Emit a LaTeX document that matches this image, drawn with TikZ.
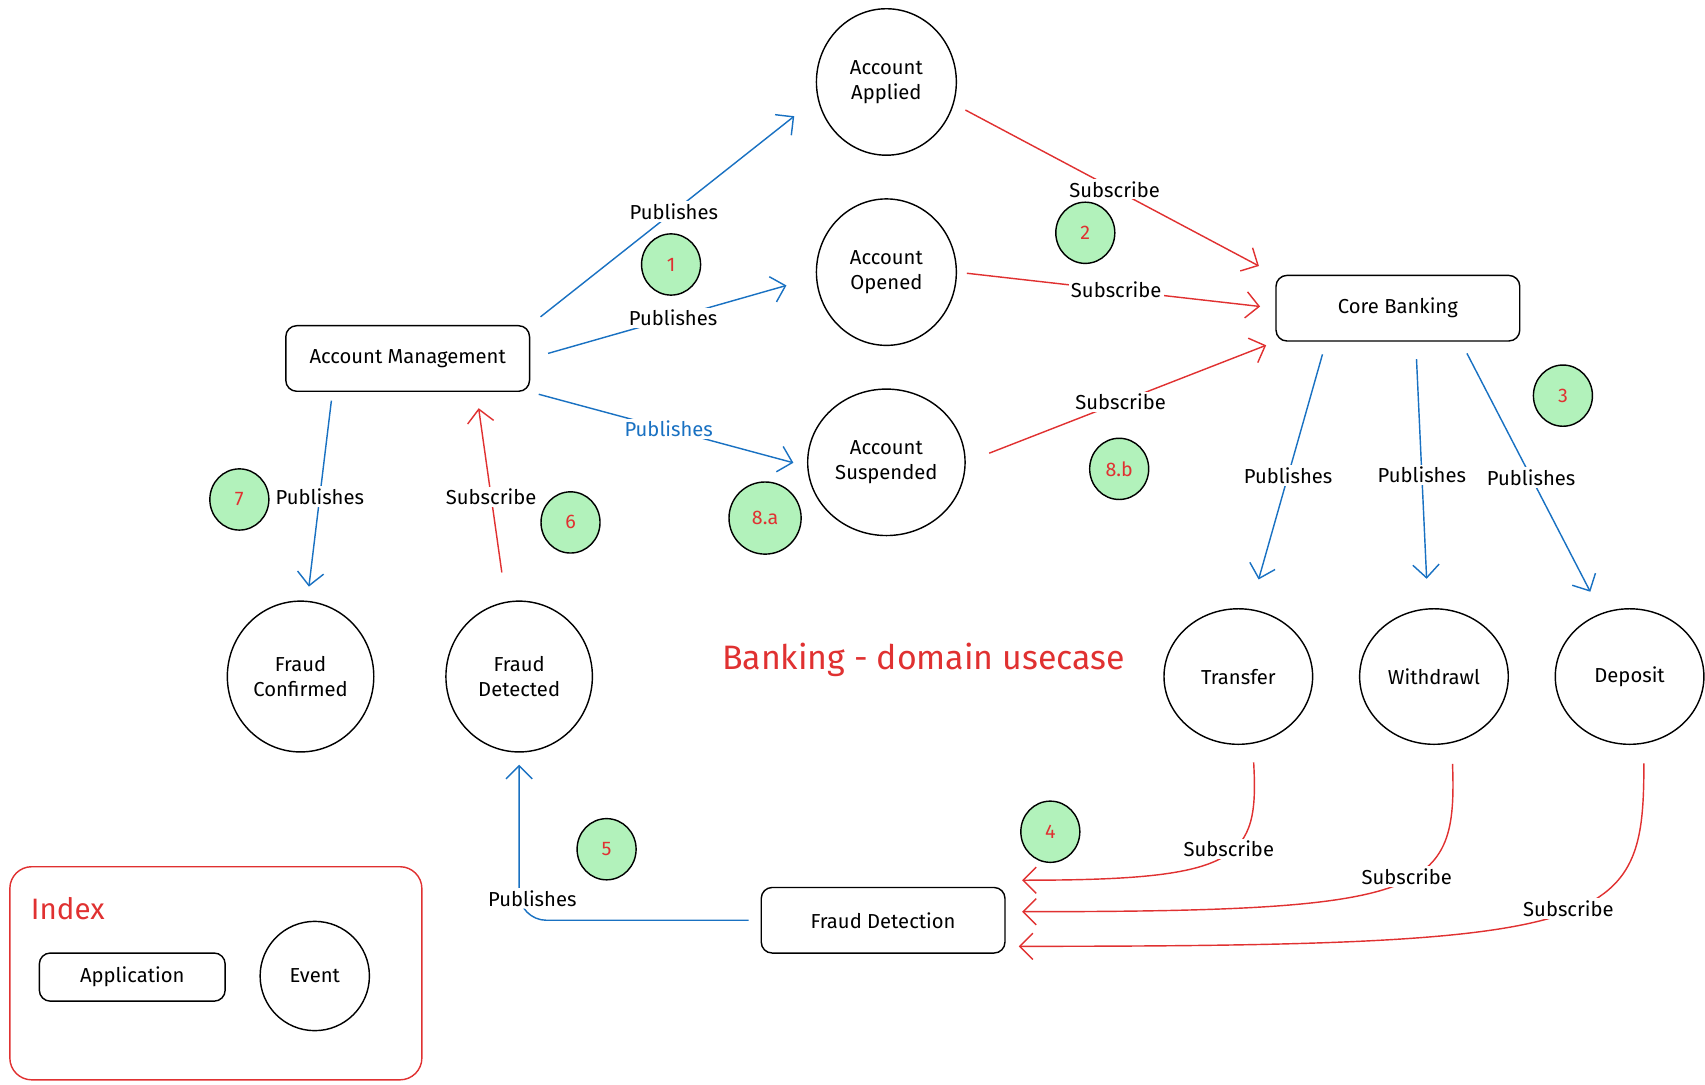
\documentclass[tikz,border=0pt]{standalone}
\usepackage{fontspec}
\setmainfont{Fira Sans}
\usetikzlibrary{shapes.geometric,arrows.meta}
\definecolor{exblue}{HTML}{1971C2}
\definecolor{exred}{HTML}{E03131}
\definecolor{exgreen}{HTML}{B2F2BB}
\tikzset{
	app/.style={draw, rounded corners=10pt, line width=1.3pt, minimum width=223pt, minimum height=60pt, font=\fontsize{18.5}{21}\selectfont},
	evt/.style={draw, ellipse, line width=1.3pt, minimum width=128pt, minimum height=134pt, align=center, font=\fontsize{18.5}{23}\selectfont},
	stepno/.style={draw, ellipse, fill=exgreen, line width=1.3pt, minimum width=54pt, minimum height=56pt, text=exred, font=\fontsize{18}{20}\selectfont},
	pub/.style={draw=exblue, line width=1.3pt, -{Straight Barb[length=12pt,width=24pt]}},
	sub/.style={draw=exred, line width=1.3pt, -{Straight Barb[length=12pt,width=24pt]}},
	lbl/.style={fill=white, inner sep=2pt, text=black, font=\fontsize{18.5}{21}\selectfont}
}
\begin{document}
\begin{tikzpicture}[x=1pt,y=-1pt]
				\useasboundingbox (0,0) rectangle (1560,992);
				\node[app] (am) at (373,328) {Account Management};
				\node[app] (cb) at (1279,282) {Core Banking};
				\node[app] (fd) at (808,842) {Fraud Detection};
				\node[evt] (aa) at (811,75) {Account\\Applied};
				\node[evt] (ao) at (811,249) {Account\\Opened};
				\node[evt, minimum width=144pt] (as) at (811,423) {Account\\Suspended};
				\node[evt, minimum width=134pt, minimum height=138pt] (fc) at (275,619) {Fraud\\Confirmed};
				\node[evt, minimum width=134pt, minimum height=138pt] (fdd) at (475,619) {Fraud\\Detected};
				\node[evt, minimum width=136pt, minimum height=124pt] (tr) at (1133,619) {Transfer};
				\node[evt, minimum width=136pt, minimum height=124pt] (wd) at (1312,619) {Withdrawl};
				\node[evt, minimum width=136pt, minimum height=124pt] (dp) at (1491,619) {Deposit};
				\node[text=exred, font=\fontsize{31}{36}\selectfont] (title) at (845,604) {Banking - domain usecase};
				\node[stepno] (s1) at (614,242) {1};
				\node[stepno] (s2) at (993,213) {2};
				\node[stepno] (s3) at (1430,362) {3};
				\node[stepno] (s4) at (961,761) {4};
				\node[stepno] (s5) at (555,777) {5};
				\node[stepno] (s6) at (522,478) {6};
				\node[stepno] (s7) at (219,457) {7};
				\node[stepno, minimum width=66pt, minimum height=66pt] (s8a) at (700,474) {8.a};
				\node[stepno] (s8b) at (1024,429) {8.b};
				\draw[pub, shorten <=12pt, shorten >=27pt] (am.north east) -- node[lbl]{Publishes} (aa.193);
				\draw[pub, shorten <=17pt, shorten >=28pt] (am.east) -- node[lbl]{Publishes} (ao.184);
				\draw[pub, shorten <=8pt, shorten >=13pt] (am.south east) -- node[lbl, text=exblue]{Publishes} (as.183);
				\draw[sub, shorten <=12pt, shorten >=17pt] (aa.-18) -- node[lbl]{Subscribe} (cb.north west);
				\draw[sub, shorten <=9pt, shorten >=14pt] (ao.east) -- node[lbl]{Subscribe} (cb.west);
				\draw[sub, shorten <=23pt, shorten >=9pt] (as.east) -- node[lbl]{Subscribe} (cb.south west);
				\draw[pub, shorten <=12pt, shorten >=28pt] (cb.205) -- node[lbl]{Publishes} (tr.80);
				\draw[pub, shorten <=16pt, shorten >=27pt] (cb.298) -- node[lbl]{Publishes} (wd.95);
				\draw[pub, shorten <=12pt, shorten >=22pt] (cb.332) -- node[lbl]{Publishes} (dp.114);
				\draw[pub, shorten <=8pt, shorten >=13pt] (am.204) -- node[lbl]{Publishes} (fc.85);
				\draw[sub, shorten <=27pt, shorten >=15pt] (fdd.100) -- node[lbl]{Subscribe} (am.334);
				\draw[pub, rounded corners=25pt, shorten <=11pt, shorten >=11pt] (fd.west) -| node[lbl, pos=0.5, xshift=12pt, yshift=20pt]{Publishes} (fdd.south);
				\draw[sub, shorten <=17pt, shorten >=15pt] (tr.-78) .. controls +(6,106) and +(215,0) .. node[lbl, pos=0.45]{Subscribe} ([yshift=6pt]fd.north east);
				\draw[sub, shorten <=19pt, shorten >=15pt] (wd.-75) .. controls +(5,138) and +(390,0) .. node[lbl, pos=0.45]{Subscribe} (fd.4);
				\draw[sub, shorten <=18pt, shorten >=12pt] (dp.-78) .. controls +(0,168) and +(560,0) .. node[lbl, pos=0.47]{Subscribe} (fd.-12);
				\node[draw=exred, rounded corners=20pt, line width=1.3pt, minimum width=377pt, minimum height=195pt] (idx) at (197.5,890.5) {};
				\node[text=exred, font=\fontsize{27}{30}\selectfont] (idxlbl) at (62,831) {Index};
				\node[app, minimum width=170pt, minimum height=44pt] (lapp) at (121,894) {Application};
				\node[evt, minimum width=100pt, minimum height=100pt] (levt) at (288,893) {Event};
			\end{tikzpicture}
\end{document}
